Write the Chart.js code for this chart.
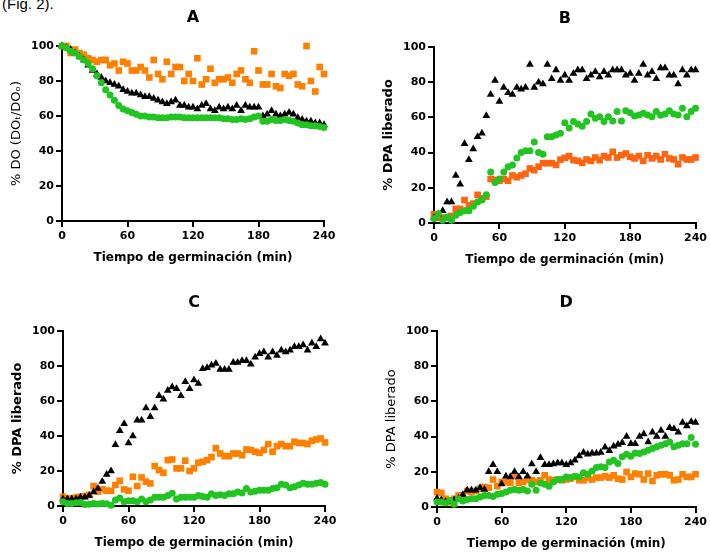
<!DOCTYPE html>
<html>
<head>
<meta charset="utf-8">
<script src="https://cdn.jsdelivr.net/npm/chart.js@4.4.0/dist/chart.umd.min.js"></script>
<style>
    body { margin: 0; background: #fff; width: 710px; height: 553px; overflow: hidden; position: relative; }
    .fig-ref { position: absolute; left: 2px; top: -4px; font-family: "Liberation Sans", Arial, sans-serif; font-size: 15px; line-height: 15px; color: #000; }
    canvas { position: absolute; }
</style>
</head>
<body>
<div class="fig-ref">(Fig. 2).</div>
<canvas id="panel-a" width="345" height="276" style="left:0px;top:0px"></canvas>
<canvas id="panel-b" width="350" height="276" style="left:360px;top:0px"></canvas>
<canvas id="panel-c" width="345" height="272" style="left:0px;top:281px"></canvas>
<canvas id="panel-d" width="350" height="272" style="left:360px;top:281px"></canvas>
<script>
// Sampling times (min)
const tiempo = [0, 4, 8, 12, 16, 20, 24, 28, 32, 36,
    40, 44, 48, 52, 56, 60, 64, 68, 72, 76,
    80, 84, 88, 92, 96, 100, 104, 108, 112, 116,
    120, 124, 128, 132, 136, 140, 144, 148, 152, 156,
    160, 164, 168, 172, 176, 180, 184, 188, 192, 196,
    200, 204, 208, 212, 216, 220, 224, 228, 232, 236,
    240];

const xTicks = [0, 60, 120, 180, 240];
const yTicks = [0, 20, 40, 60, 80, 100];

// Panel A - % DO
const aBlack = [100, 99, 98, 96, 94, 92, 89, 86, 84, 82,
    80, 79, 78, 77, 75, 74, 73, 73, 72, 71,
    71, 70, 69, 68, 67, 68, 69, 66, 66, 65,
    65, 64, 66, 67, 64, 63, 65, 64, 65, 64,
    66, 63, 66, 65, 65, 65, 60, 61, 63, 61,
    60, 61, 62, 61, 59, 58, 57, 57, 56, 56,
    55];
const aGreen = [100, 99, 97, 96, 94, 92, 90, 87, 83, 79,
    75, 72, 69, 66, 64, 63, 62, 61, 60, 60,
    59.5, 59.5, 59, 59, 59, 59.5, 59.5, 59.5, 59, 59,
    59, 59, 59, 59, 59, 59, 59, 58.5, 58.5, 58,
    58, 58.5, 58, 58.5, 59.5, 60, 57, 57, 58, 57.5,
    57.5, 58, 57.5, 57, 56, 55, 55, 54.5, 54.5, 54,
    53.5];
const aOrange = [100, 100, 96, 98, 96, 95, 93, 92, 91, 92,
    92, 89, 90, 86, 91, 90, 86, 86, 88, 86,
    82, 92, 84, 81, 91, 84, 88, 88, 80, 84,
    80, 93, 78, 81, 87, 79, 81, 81, 82, 79,
    84, 86, 81, 79, 97, 86, 78, 78, 84, 77,
    76, 84, 83, 84, 78, 77, 100, 80, 74, 88,
    84];

// Panel B - % DPA liberado
const bBlack = [3, 5, 7, 12, 12, 27, 22, 45, 36, 42,
    49, 51, 61, 73, 81, 69, 77, 74, 73, 77,
    76, 77, 90, 77, 80, 79, 90, 82, 87, 81,
    84, 81, 85, 87, 87, 82, 84, 86, 83, 86,
    84, 87, 87, 87, 84, 85, 81, 85, 90, 84,
    86, 82, 88, 88, 84, 84, 79, 87, 84, 87,
    87];
const bGreen = [2.5, 5.3, 1.5, 3.4, 1.5, 4.4, 6, 7, 7, 9.5,
    12, 13, 16, 29, 23, 25, 29, 32, 33, 37,
    40, 41, 41, 46, 40, 39, 49, 49, 50, 51,
    57, 54, 57.6, 56.2, 55, 57.6, 62, 59.5, 60.4, 57.6,
    60.4, 58, 63.3, 58, 63.8, 62.7, 60.8, 61.4, 62.3, 61.4,
    60.4, 63.3, 61.2, 62, 63.8, 62, 61.4, 65.2, 60.4, 63.3,
    65.2];
const bOrange = [5, 3, 3, 3, 4, 8, 8, 13, 10, 11,
    16, 14, 15, 25, 24.5, 24, 25, 24, 27, 26,
    27, 28, 31, 30, 32, 34, 34, 34, 33, 36,
    37, 38, 35.7, 35.3, 34.2, 36.1, 35.3, 37.2, 35.7, 38,
    37.2, 40.4, 37.2, 38.5, 39.5, 37.6, 36.7, 38, 35.3, 38.5,
    36.7, 38, 36.1, 39.1, 36.7, 36.1, 33.4, 37.2, 36.1, 36.1,
    37.2];

// Panel C - % DPA liberado
const cBlack = [4, 4, 4, 4, 5, 5, 6, 8, 10, 14,
    18, 20, 35, 43, 47, 36, 40, 49, 49, 56,
    51, 56, 63, 61, 66, 68, 67, 63, 71, 67,
    72, 70, 78.5, 79, 80.5, 81.5, 78, 78, 78, 82,
    82, 83, 83, 81, 85, 87, 88, 85, 88, 86,
    89, 88, 89, 91, 91, 92, 89, 93, 91, 95.5,
    93];
const cGreen = [2.5, 1.5, 1.5, 1.8, 2, 0.8, 1, 1.5, 1.2, 1.5,
    1.3, 0.5, 3.5, 4.6, 2.5, 3, 3, 2.5, 4, 2.5,
    3.4, 5, 5, 5, 6, 7.3, 4, 5, 5, 5,
    5, 6, 5.5, 5, 7, 6, 6.5, 6, 7, 7,
    8, 7.5, 10, 8, 8.5, 9, 9, 9, 10, 10.5,
    12.5, 12, 10.5, 11, 12, 13, 12.5, 12.5, 13, 13.5,
    12.5];
const cOrange = [5.3, 4.4, 4.4, 4.9, 5.3, 5.7, 6.3, 11.4, 8.2, 9.5,
    8.7, 8.7, 12, 14.4, 9.5, 8.7, 16.7, 11.4, 16.3, 13.9,
    12.9, 22.8, 20.5, 19, 26.2, 26.6, 21.5, 21.5, 25.9, 20,
    21.5, 24.7, 25.3, 26.2, 28, 33, 30, 28.5, 28.5, 30,
    30, 29, 32.3, 32, 31, 30.4, 32, 35.4, 31, 34.2,
    35.4, 34.2, 34.2, 36.7, 36, 36, 35.4, 37.3, 38, 38.6,
    36.3];

// Panel D - % DPA liberado
const dBlack = [5, 4, 3, 3, 4, 5, 7, 9.5, 9.5, 9.5,
    11, 10, 20, 24, 20, 13, 17.5, 17, 20, 17,
    20, 17.5, 24.5, 20, 28, 24, 24, 24.5, 25, 25,
    24, 25, 26.5, 29, 31, 30, 30.5, 30.5, 31, 34,
    32, 34.5, 35.5, 36.5, 40, 36, 36, 40, 41.5, 37,
    42.5, 40, 43.5, 40, 45, 44.5, 42.5, 48, 46, 48.5,
    48];
const dGreen = [2.8, 2.8, 2.3, 3.8, 1.5, 4.7, 3.4, 4.2, 4.7, 4.7,
    5.7, 6.6, 6.6, 6, 7.2, 7.6, 8.5, 9.5, 9.9, 9.5,
    9.9, 9.1, 12.9, 9.5, 13.7, 12.9, 11.8, 14.2, 15.6, 15.6,
    17.1, 16.7, 17.5, 17.1, 19.4, 18.6, 20.5, 22.4, 22.8, 22.4,
    25.6, 26.6, 24.7, 28.5, 30, 28.8, 30.7, 30.4, 31.3, 32.3,
    33.2, 34.2, 35.1, 36, 37, 34.2, 35.1, 36, 36, 39.5,
    35.7];
const dOrange = [8.5, 8, 4.7, 2.8, 4.7, 6.6, 6.6, 9.1, 8.5, 9.1,
    10.4, 11.4, 11, 15.6, 11.8, 14.2, 14.2, 13.7, 17.5, 13.7,
    14.2, 15.6, 15.2, 14.2, 15.2, 18, 15.6, 15.2, 15.6, 15.2,
    15.6, 16.1, 17.1, 15.2, 15.2, 16.7, 15.6, 16.7, 16.7, 17.5,
    16.7, 18, 16.1, 15.6, 19.9, 17.1, 19, 18.6, 15.6, 19,
    14.8, 18, 18.6, 18.6, 18, 15.2, 15.6, 18.6, 17.1, 17.1,
    18.6];

const FONT = "'DejaVu Sans', sans-serif";
const GREEN = '#22c422';
const BLACK = '#000000';
const ORANGE = '#ff8000';
const ORANGE_B = '#ff6410';

Chart.defaults.font.family = FONT;
Chart.defaults.color = '#000';

// Turn a value array into scatter points
function toPoints(values) {
    return values.map((v, i) => ({ x: tiempo[i], y: v }));
}

// Build one panel; box holds the canvas-relative plot area
function createPanel(canvasId, letter, yTitle, yBold, green, black, orange, orangeColor, box) {
    const canvas = document.getElementById(canvasId);
    const titleTop = box.top - 28.5 - 9.6;
    const yTitleSize = 13;

    new Chart(canvas, {
        type: 'scatter',
        data: {
            datasets: [
                { data: toPoints(green), pointStyle: 'circle', pointRadius: 3.5, backgroundColor: GREEN, borderWidth: 0, clip: false },
                { data: toPoints(black), pointStyle: 'triangle', pointRadius: 4.5, backgroundColor: BLACK, borderWidth: 0, clip: false },
                { data: toPoints(orange), pointStyle: 'rect', pointRadius: 4.7, backgroundColor: orangeColor, borderWidth: 0, clip: false }
            ]
        },
        options: {
            responsive: false,
            animation: false,
            events: [],
            layout: { padding: { left: 0, top: 0, bottom: 0, right: canvas.width - box.right } },
            plugins: {
                legend: { display: false },
                tooltip: { enabled: false },
                title: {
                    display: true,
                    fullSize: false,
                    text: letter,
                    color: '#000',
                    font: { family: FONT, size: 16, weight: 'bold' },
                    padding: { top: titleTop, bottom: box.top - titleTop - 19.2 }
                }
            },
            scales: {
                x: {
                    type: 'linear',
                    min: 0,
                    max: 240,
                    border: { color: '#000', width: 2 },
                    grid: { drawOnChartArea: false, drawTicks: true, tickLength: 6, color: '#000', lineWidth: 2 },
                    afterBuildTicks: scale => { scale.ticks = xTicks.map(v => ({ value: v })); },
                    ticks: { color: '#000', padding: 3, maxRotation: 0, font: { family: FONT, size: 11, weight: 'bold' } },
                    title: {
                        display: true,
                        text: 'Tiempo de germinación (min)',
                        color: '#000',
                        font: { family: FONT, size: 12, weight: 'bold' },
                        padding: { top: 0, bottom: box.xHeight - 7.2 - 37 }
                    },
                    afterFit: scale => { scale.height = box.xHeight; }
                },
                y: {
                    type: 'linear',
                    min: 0,
                    max: 100,
                    border: { color: '#000', width: 2 },
                    grid: { drawOnChartArea: false, drawTicks: true, tickLength: 6, color: '#000', lineWidth: 2 },
                    afterBuildTicks: scale => { scale.ticks = yTicks.map(v => ({ value: v })); },
                    ticks: { color: '#000', padding: 2, font: { family: FONT, size: 11, weight: 'bold' } },
                    title: {
                        display: true,
                        text: yTitle,
                        color: '#000',
                        font: { family: FONT, size: yTitleSize, weight: yBold ? 'bold' : 'normal' },
                        padding: { top: box.left - 45 - yTitleSize * 0.6, bottom: 0 }
                    },
                    afterFit: scale => { scale.width = box.left; }
                }
            }
        }
    });
}

createPanel('panel-a', 'A', '% DO (DOₜ/DOₒ)', false, aGreen, aBlack, aOrange, ORANGE,
    { left: 62, top: 46, right: 324, xHeight: 55 });
createPanel('panel-b', 'B', '% DPA liberado', true, bGreen, bBlack, bOrange, ORANGE_B,
    { left: 74, top: 47, right: 338, xHeight: 53 });
createPanel('panel-c', 'C', '% DPA liberado', true, cGreen, cBlack, cOrange, ORANGE,
    { left: 63, top: 50, right: 325, xHeight: 47 });
createPanel('panel-d', 'D', '% DPA liberado', false, dGreen, dBlack, dOrange, ORANGE,
    { left: 77, top: 50, right: 340, xHeight: 46 });
</script>
</body>
</html>
